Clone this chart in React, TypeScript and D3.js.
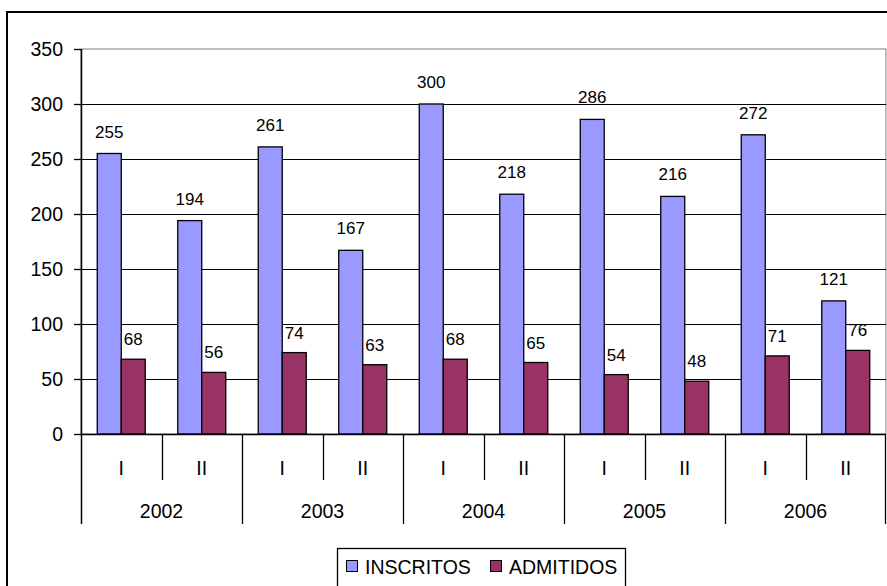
import React from "react";
import * as d3 from "d3";

// Enrollment per semester, 2002–2006
const years = ["2002", "2003", "2004", "2005", "2006"];
const semesters = ["I", "II"];
const categories = years.flatMap((y) => semesters.map((s) => `${y}-${s}`));
const inscritos = [255, 194, 261, 167, 300, 218, 286, 216, 272, 121];
const admitidos = [68, 56, 74, 63, 68, 65, 54, 48, 71, 76];
const seriesNames = ["INSCRITOS", "ADMITIDOS"];
const seriesColors = ["#9999FF", "#993366"];
const yTicks = [0, 50, 100, 150, 200, 250, 300, 350];

const W = 887;
const H = 586;
const plot = { left: 81, right: 886, top: 49, bottom: 434 };
const FONT = "'Liberation Sans', Arial, sans-serif";

export default function App() {
  const x = d3
    .scaleBand<string>()
    .domain(categories)
    .range([plot.left, plot.right])
    .padding(0);
  const groupW = 48;
  const xs = d3
    .scaleBand<string>()
    .domain(seriesNames)
    .range([0, groupW])
    .padding(0);
  const y = d3.scaleLinear().domain([0, 350]).range([plot.bottom, plot.top]);
  const step = x.step();
  const seriesValues = [inscritos, admitidos];

  const subAxisBottom = 480;
  const yearAxisBottom = 524;

  return (
    <svg
      width={W}
      height={H}
      style={{ position: "absolute", left: 0, top: 0, background: "#fff" }}
      fontFamily={FONT}
    >
      {/* chart frame */}
      <rect x={7} y={12} width={W + 20} height={H + 20} fill="#fff" stroke="#000" strokeWidth={2} />

      {/* plot area border */}
      <rect
        x={plot.left}
        y={plot.top}
        width={plot.right - plot.left}
        height={plot.bottom - plot.top}
        fill="#fff"
        stroke="#808080"
        strokeWidth={1}
      />

      {/* gridlines */}
      {yTicks
        .filter((t) => t > 0 && t < 350)
        .map((t) => (
          <line
            key={`g${t}`}
            x1={plot.left}
            x2={plot.right}
            y1={Math.round(y(t)) + 0.5}
            y2={Math.round(y(t)) + 0.5}
            stroke="#000"
            strokeWidth={1}
          />
        ))}

      {/* bars */}
      {seriesValues.map((vals, si) =>
        vals.map((v, i) => {
          const bx = (x(categories[i]) as number) + (step - groupW) / 2 + (xs(seriesNames[si]) as number);
          return (
            <rect
              key={`b${si}-${i}`}
              x={bx}
              y={y(v)}
              width={xs.bandwidth()}
              height={plot.bottom - y(v)}
              fill={seriesColors[si]}
              stroke="#000"
              strokeWidth={1.3}
            />
          );
        })
      )}

      {/* data labels */}
      {seriesValues.map((vals, si) =>
        vals.map((v, i) => {
          const cx =
            (x(categories[i]) as number) +
            (step - groupW) / 2 +
            (xs(seriesNames[si]) as number) +
            xs.bandwidth() / 2;
          return (
            <text
              key={`l${si}-${i}`}
              x={cx}
              y={y(v) - (si === 0 ? 16 : 14)}
              textAnchor="middle"
              fontSize={17}
              fill="#000"
            >
              {v}
            </text>
          );
        })
      )}

      {/* value axis */}
      <line x1={plot.left + 0.5} x2={plot.left + 0.5} y1={plot.top} y2={yearAxisBottom} stroke="#000" strokeWidth={1.5} />
      {yTicks.map((t) => (
        <g key={`t${t}`}>
          <line
            x1={74}
            x2={plot.left}
            y1={Math.round(y(t)) + 0.5}
            y2={Math.round(y(t)) + 0.5}
            stroke="#000"
            strokeWidth={1.3}
          />
          <text x={63} y={y(t) + 7} textAnchor="end" fontSize={19.5} fill="#000">
            {t}
          </text>
        </g>
      ))}

      {/* category axis */}
      <line x1={plot.left} x2={plot.right} y1={plot.bottom + 0.5} y2={plot.bottom + 0.5} stroke="#000" strokeWidth={1.5} />
      {categories.map((c, i) => {
        const left = x(c) as number;
        const isYearStart = i % 2 === 0;
        return (
          <g key={`c${c}`}>
            {i > 0 && (
              <line
                x1={Math.round(left) + 0.5}
                x2={Math.round(left) + 0.5}
                y1={plot.bottom}
                y2={isYearStart ? yearAxisBottom : subAxisBottom}
                stroke="#000"
                strokeWidth={1.3}
              />
            )}
            <text x={left + step / 2} y={475} textAnchor="middle" fontSize={19.5} fill="#000">
              {semesters[i % 2]}
            </text>
          </g>
        );
      })}
      <line
        x1={plot.right - 0.5}
        x2={plot.right - 0.5}
        y1={plot.bottom}
        y2={yearAxisBottom}
        stroke="#000"
        strokeWidth={1.3}
      />
      {years.map((yr, yi) => {
        const left = x(categories[yi * 2]) as number;
        return (
          <text key={`y${yr}`} x={left + step} y={518} textAnchor="middle" fontSize={19.5} fill="#000">
            {yr}
          </text>
        );
      })}

      {/* legend */}
      <rect x={337.5} y={548.5} width={288} height={50} fill="#fff" stroke="#000" strokeWidth={1.3} />
      {seriesNames.map((name, si) => {
        const sx = si === 0 ? 346 : 490;
        return (
          <g key={`lg${name}`}>
            <rect x={sx + 0.5} y={560.5} width={11} height={11} fill={seriesColors[si]} stroke="#000" strokeWidth={1} />
            <text x={sx + 19} y={574} fontSize={19.5} fill="#000">
              {name}
            </text>
          </g>
        );
      })}
    </svg>
  );
}
